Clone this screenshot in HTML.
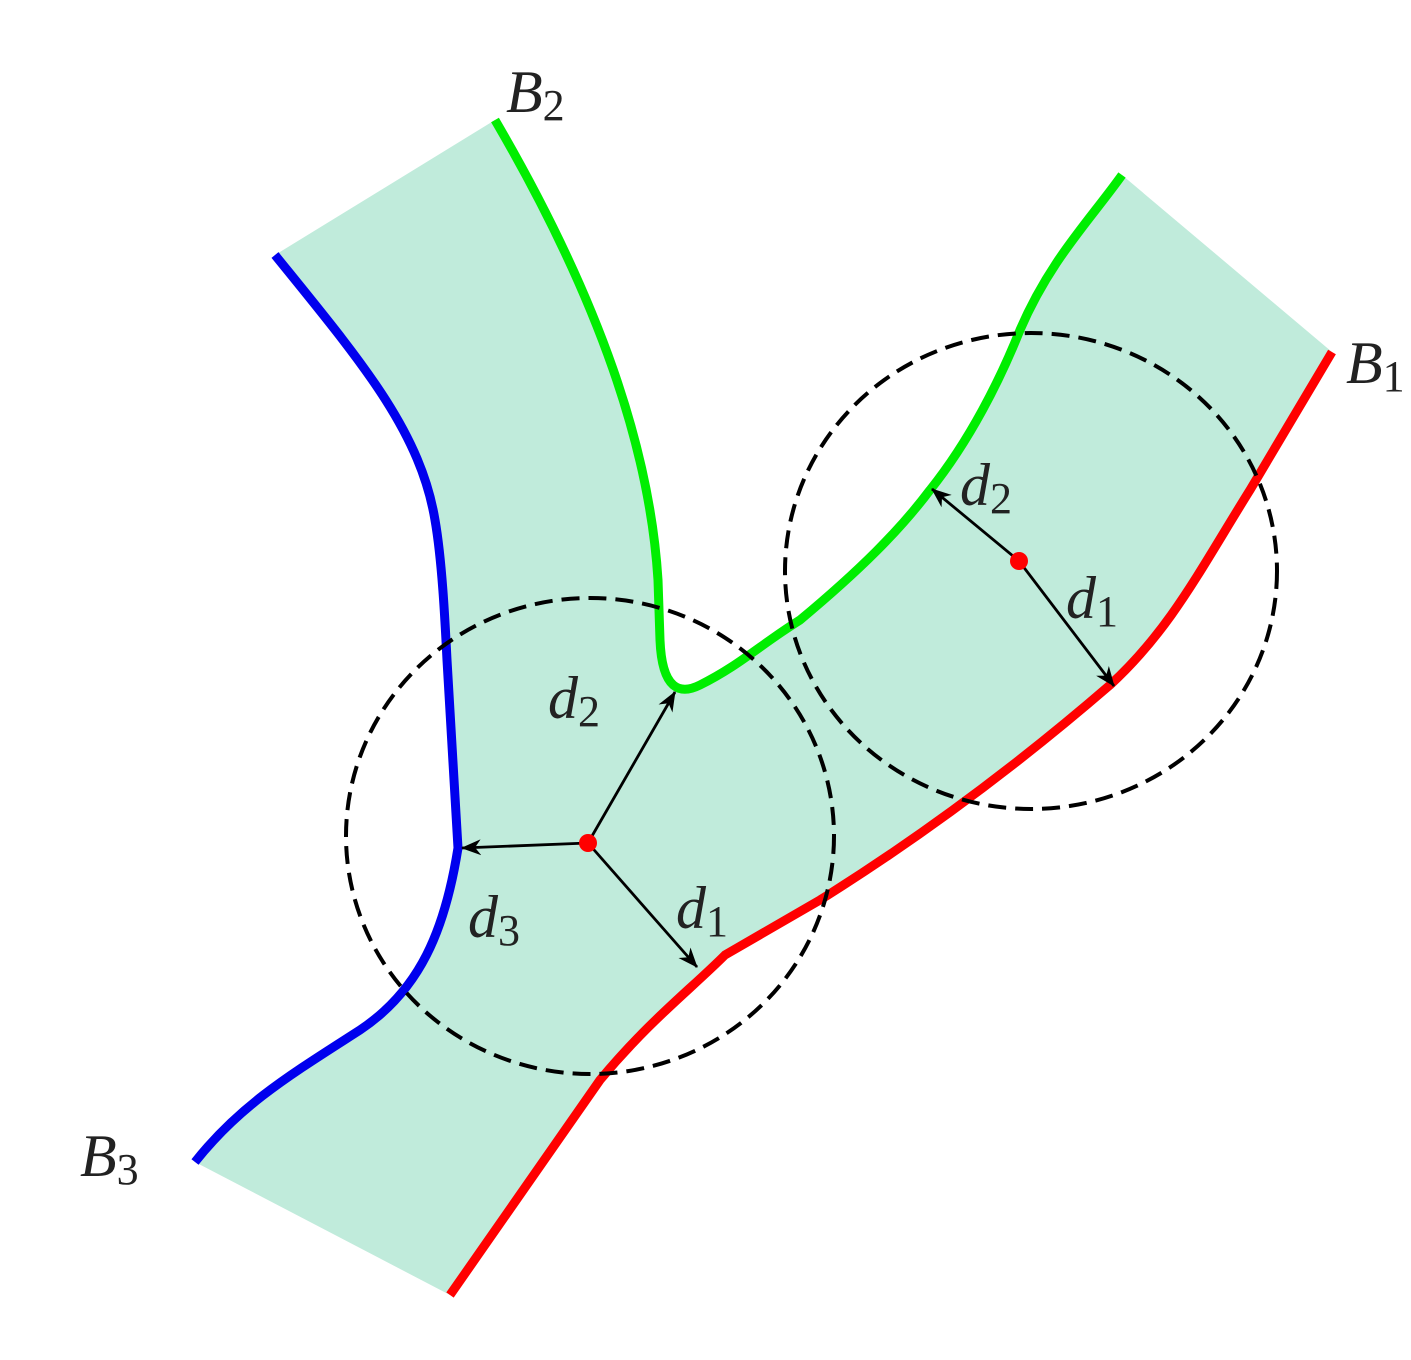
<!DOCTYPE html>
<html><head><meta charset="utf-8"><style>
html,body{margin:0;padding:0;background:#fff;}
svg{display:block;}
text{font-family:"Liberation Serif","Times New Roman",serif;font-style:italic;fill:#222;}
</style></head><body>
<svg width="1411" height="1360" viewBox="0 0 1411 1360" xmlns="http://www.w3.org/2000/svg">
<defs>
<marker id="ah" markerWidth="20" markerHeight="16" refX="19" refY="8" orient="auto" markerUnits="userSpaceOnUse">
<path d="M0,0 L20,8 L0,16 L6,8 Z" fill="#000"/>
</marker>
</defs>
<path d="M275,255 C360,360 420,430 435,520 C442,560 445,620 447,660 L458,848 C445,930 420,990 360,1030 C290,1075 240,1105 195,1162 L450,1295 L600,1080 C650,1020 690,990 725,955 L820,900 C900,850 1000,780 1110,685 C1170,630 1200,570 1250,490 L1332,352 L1122,175 C1090,220 1050,260 1020,330 C1000,380 970,440 930,490 C900,530 860,570 800,620 C760,645 740,665 700,685 C680,695 662,690 660,640 L658,580 C650,450 600,300 495,120 Z" fill="#c0ebdb"/>
<path d="M275,255 C360,360 420,430 435,520 C442,560 445,620 447,660 L458,848 C445,930 420,990 360,1030 C290,1075 240,1105 195,1162" fill="none" stroke="#0000ee" stroke-width="9"/>
<path d="M450,1295 L600,1080 C650,1020 690,990 725,955 L820,900 C900,850 1000,780 1110,685 C1170,630 1200,570 1250,490 L1332,352" fill="none" stroke="#ff0000" stroke-width="9"/>
<path d="M495,120 C600,300 650,450 658,580 L660,640 C662,690 680,695 700,685 C740,665 760,645 800,620 C860,570 900,530 930,490 C970,440 1000,380 1020,330 C1050,260 1090,220 1122,175" fill="none" stroke="#00ee00" stroke-width="9"/>
<ellipse cx="590" cy="836" rx="244" ry="238" fill="none" stroke="#000" stroke-width="4" stroke-dasharray="18,9"/>
<ellipse cx="1031" cy="571" rx="246" ry="238" fill="none" stroke="#000" stroke-width="4" stroke-dasharray="18,9"/>
<g stroke="#000" stroke-width="2.8" marker-end="url(#ah)">
<line x1="588" y1="843" x2="675" y2="692"/>
<line x1="588" y1="843" x2="462" y2="848"/>
<line x1="588" y1="843" x2="697" y2="967"/>
<line x1="1019" y1="561" x2="932" y2="489"/>
<line x1="1019" y1="561" x2="1114" y2="686"/>
</g>
<circle cx="588" cy="843" r="9" fill="#ff0000"/>
<circle cx="1019" cy="561" r="9" fill="#ff0000"/>
<g font-size="60">
<text x="506" y="112">B<tspan font-style="normal" font-size="44" dy="8">2</tspan></text>
<text x="1346" y="383">B<tspan font-style="normal" font-size="44" dy="8">1</tspan></text>
<text x="80" y="1176">B<tspan font-style="normal" font-size="44" dy="8">3</tspan></text>
<text x="548" y="718">d<tspan font-style="normal" font-size="44" dy="8">2</tspan></text>
<text x="468" y="937">d<tspan font-style="normal" font-size="44" dy="8">3</tspan></text>
<text x="676" y="928">d<tspan font-style="normal" font-size="44" dy="8">1</tspan></text>
<text x="960" y="505">d<tspan font-style="normal" font-size="44" dy="8">2</tspan></text>
<text x="1066" y="618">d<tspan font-style="normal" font-size="44" dy="8">1</tspan></text>
</g>
</svg>
</body></html>
